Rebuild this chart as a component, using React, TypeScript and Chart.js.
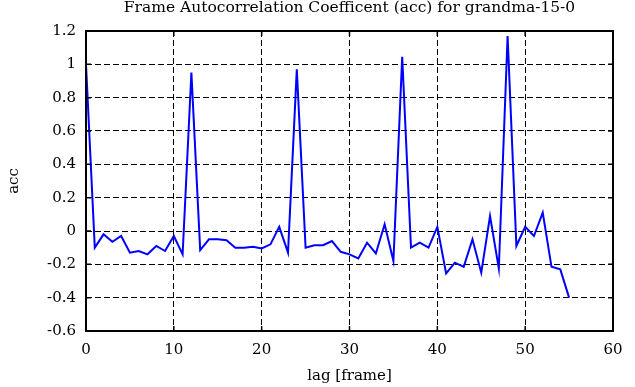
import React, { useEffect, useRef } from "react";
import { Chart, registerables } from "chart.js";

Chart.register(...registerables);

const TITLE = "Frame Autocorrelation Coefficent (acc) for grandma-15-0";
const X_LABEL = "lag [frame]";
const Y_LABEL = "acc";

const lags = [
  0, 1, 2, 3, 4, 5, 6, 7, 8, 9, 10, 11, 12, 13, 14, 15, 16, 17, 18, 19, 20,
  21, 22, 23, 24, 25, 26, 27, 28, 29, 30, 31, 32, 33, 34, 35, 36, 37, 38, 39,
  40, 41, 42, 43, 44, 45, 46, 47, 48, 49, 50, 51, 52, 53, 54, 55,
];

const acc = [
  1.0, -0.1, -0.02, -0.065, -0.03, -0.13, -0.12, -0.14, -0.09, -0.12, -0.03,
  -0.14, 0.95, -0.115, -0.05, -0.05, -0.055, -0.1, -0.1, -0.095, -0.105,
  -0.08, 0.025, -0.13, 0.97, -0.1, -0.085, -0.085, -0.06, -0.125, -0.14,
  -0.165, -0.07, -0.135, 0.04, -0.18, 1.045, -0.1, -0.07, -0.1, 0.025,
  -0.255, -0.19, -0.215, -0.05, -0.25, 0.09, -0.225, 1.17, -0.09, 0.025,
  -0.03, 0.11, -0.215, -0.23, -0.4,
];

const X_MIN = 0;
const X_MAX = 60;
const X_STEP = 10;
const Y_MIN = -0.6;
const Y_MAX = 1.2;
const Y_STEP = 0.2;

const FONT_FAMILY = "'DejaVu Serif', 'Liberation Serif', serif";

const plotTitle = {
  id: "plotTitle",
  afterDraw(chart: any) {
    const { ctx, chartArea } = chart;
    ctx.save();
    ctx.fillStyle = "#000";
    ctx.font = `15.5px ${FONT_FAMILY}`;
    ctx.textAlign = "center";
    ctx.textBaseline = "middle";
    ctx.fillText(TITLE, (chartArea.left + chartArea.right) / 2, 8);
    ctx.restore();
  },
};

const innerTicks = {
  id: "innerTicks",
  afterDatasetsDraw(chart: any) {
    const { ctx, chartArea, scales } = chart;
    const len = 5;
    ctx.save();
    ctx.strokeStyle = "#000";
    ctx.lineWidth = 1.5;
    ctx.setLineDash([]);
    ctx.beginPath();
    scales.x.ticks.forEach((t: any) => {
      const px = scales.x.getPixelForValue(t.value);
      ctx.moveTo(px, chartArea.bottom);
      ctx.lineTo(px, chartArea.bottom - len);
      ctx.moveTo(px, chartArea.top);
      ctx.lineTo(px, chartArea.top + len);
    });
    scales.y.ticks.forEach((t: any) => {
      const py = scales.y.getPixelForValue(t.value);
      ctx.moveTo(chartArea.left, py);
      ctx.lineTo(chartArea.left + len, py);
      ctx.moveTo(chartArea.right, py);
      ctx.lineTo(chartArea.right - len, py);
    });
    ctx.stroke();
    ctx.lineWidth = 2;
    ctx.strokeRect(
      chartArea.left,
      chartArea.top,
      chartArea.right - chartArea.left,
      chartArea.bottom - chartArea.top
    );
    ctx.restore();
  },
};

export default function App() {
  const canvasRef = useRef<HTMLCanvasElement | null>(null);

  useEffect(() => {
    document.body.style.margin = "0";
    const canvas = canvasRef.current;
    if (!canvas) return;
    const chart = new Chart(canvas, {
      type: "line",
      data: {
        datasets: [
          {
            data: lags.map((l, i) => ({ x: l, y: acc[i] })),
            borderColor: "rgb(0,0,255)",
            borderWidth: 2,
            pointRadius: 0,
            tension: 0,
            fill: false,
          },
        ],
      },
      options: {
        animation: false,
        responsive: false,
        maintainAspectRatio: false,
        layout: { padding: { top: 31, right: 22, bottom: 0, left: 0 } },
        plugins: {
          legend: { display: false },
          tooltip: { enabled: false },
          title: { display: false },
        },
        scales: {
          x: {
            type: "linear",
            min: X_MIN,
            max: X_MAX,
            ticks: {
              stepSize: X_STEP,
              color: "#000",
              font: { family: FONT_FAMILY, size: 15 },
              padding: 10,
              maxRotation: 0,
            },
            grid: {
              color: "#000",
              lineWidth: 1,
              drawTicks: false,
            },
            border: { display: false, dash: [6, 3] },
            title: {
              display: true,
              text: X_LABEL,
              color: "#000",
              font: { family: FONT_FAMILY, size: 15 },
              padding: { top: 0, bottom: 2 },
            },
            afterFit(scale: any) {
              scale.height = 56;
            },
          },
          y: {
            type: "linear",
            min: Y_MIN,
            max: Y_MAX,
            ticks: {
              stepSize: Y_STEP,
              color: "#000",
              font: { family: FONT_FAMILY, size: 15 },
              padding: 10,
              callback: (v: any) => String(parseFloat(Number(v).toFixed(1))),
            },
            grid: {
              color: "#000",
              lineWidth: 1,
              drawTicks: false,
            },
            border: { display: false, dash: [6, 3] },
            title: {
              display: true,
              text: Y_LABEL,
              color: "#000",
              font: { family: FONT_FAMILY, size: 15 },
              padding: { top: 5, bottom: 0 },
            },
            afterFit(scale: any) {
              scale.width = 86;
            },
          },
        },
      },
      plugins: [innerTicks, plotTitle],
    });
    return () => chart.destroy();
  }, []);

  return (
    <div style={{ width: 635, height: 387, background: "#fff" }}>
      <canvas ref={canvasRef} width={635} height={387} />
    </div>
  );
}
